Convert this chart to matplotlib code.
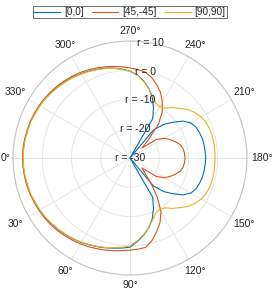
import numpy as np
import matplotlib.pyplot as plt

plt.rcParams['font.family'] = ['Liberation Sans', 'DejaVu Sans']

# angles in degrees, 5 degree steps
theta_deg = np.arange(0, 361, 5)

# pattern values in dB (0..360 deg)
r_00 = [6.6, 6.6, 6.5, 6.3, 6.2, 5.9, 5.7, 5.4, 5.0, 4.6, 4.2, 3.8, 3.3, 2.8, 2.3, 1.8, 1.3, 0.9,
        0.5, -1.3, -3.2, -5.3, -7.8, -11.0, -14.5, -30.0, -17.5, -13.8, -11.0, -8.0, -6.0, -5.1,
        -4.7, -4.4, -4.3, -4.2, -4.1,
        -4.2, -4.3, -4.4, -4.7, -5.1, -6.0, -8.0, -11.0, -13.8, -17.5, -30.0, -14.5, -11.0, -7.8,
        -5.3, -3.2, -1.5, -0.3, 0.5, 1.2, 1.8, 2.3, 2.8, 3.3, 3.8, 4.2, 4.6, 5.0, 5.4, 5.7, 5.9,
        6.2, 6.3, 6.5, 6.6, 6.6]
r_45 = [6.7, 6.7, 6.6, 6.5, 6.3, 6.1, 5.9, 5.7, 5.4, 5.1, 4.7, 4.3, 3.9, 3.5, 3.0, 2.6, 2.2, 1.8,
        1.5, 1.3, 1.0, -0.8, -3.3, -5.7, -8.8, -13.8, -19.0, -23.0, -24.7, -19.0, -16.5, -15.0,
        -13.6, -12.3, -11.6, -11.3, -11.2,
        -11.3, -11.6, -12.3, -13.6, -15.0, -16.5, -19.0, -24.7, -21.0, -14.8, -10.8, -7.9, -5.3,
        -3.3, -1.5, -0.2, 0.4, 0.8, 1.3, 1.8, 2.3, 2.8, 3.3, 3.8, 4.2, 4.6, 5.0, 5.3, 5.6, 5.9,
        6.1, 6.3, 6.4, 6.6, 6.7, 6.7]
r_90 = [6.5, 6.5, 6.4, 6.2, 6.1, 5.8, 5.6, 5.3, 4.9, 4.5, 4.1, 3.7, 3.2, 2.7, 2.2, 1.7, 1.1, 0.6,
        0.1, -1.6, -3.4, -5.4, -7.4, -9.2, -9.7, -9.2, -7.5, -6.0, -4.2, -2.9, -1.9, -1.3,
        -1.0, -0.9, -0.9, -0.9, -0.9,
        -0.9, -0.9, -0.9, -1.0, -1.3, -1.9, -2.9, -4.2, -6.0, -7.5, -9.2, -9.7, -9.2, -7.4,
        -5.4, -3.4, -1.6, -0.4, 0.4, 1.1, 1.7, 2.2, 2.7, 3.2, 3.7, 4.1, 4.5, 4.9, 5.3, 5.6, 5.8,
        6.1, 6.2, 6.4, 6.5, 6.5]

series = [('[0,0]', r_00, '#0072BD'),
          ('[45,-45]', r_45, '#D95319'),
          ('[90,90]', r_90, '#EDB120')]

r_ticks = [-30, -20, -10, 0, 10]
theta_ticks = np.arange(0, 360, 30)

txt = '#262626'
rmin, rmax = -30, 10
px_per_unit = 117 / (rmax - rmin)

fig = plt.figure(figsize=(2.74, 2.92), dpi=100)
ax = fig.add_axes([13/274, 17/292, 234/274, 234/292], projection='polar')
ax.set_theta_zero_location('W')
ax.set_theta_direction(1)

for name, vals, col in series:
    ax.plot(np.deg2rad(theta_deg), vals, color=col, lw=0.8, label=name)

ax.set_rlim(rmin, rmax)
ax.set_rticks(r_ticks[1:])
ax.set_yticklabels([])
ax.set_thetagrids(theta_ticks)
ax.set_xticklabels([])
ax.grid(True, color='#e2e2e2', lw=0.6)
ax.spines['polar'].set_color('#c4c4c4')
ax.spines['polar'].set_linewidth(0.8)

# angle labels, centred a fixed gap outside the outer ring
for a in theta_ticks:
    d = 127.5 + 5 * abs(np.cos(np.deg2rad(a)))
    if a == 0:
        d = 124  # left edge of the figure
    ax.text(np.deg2rad(a), rmin + d / px_per_unit, f'{a}°', ha='center', va='center',
            fontsize=7.5, color=txt, clip_on=False)

for rv in r_ticks:
    ax.text(np.deg2rad(260), rv, f'r = {rv}', ha='center', va='center',
            fontsize=7.5, color=txt)

leg = fig.legend(loc='upper center', bbox_to_anchor=(130/274, 1 - 1/292), ncol=3,
                 fontsize=7.2, frameon=True, fancybox=False, edgecolor='#555555',
                 handlelength=2.6, columnspacing=0.8, handletextpad=0.4,
                 borderpad=0.12, framealpha=1)
leg.get_frame().set_linewidth(0.6)
for t in leg.get_texts():
    t.set_color(txt)

fig.savefig('out.png', dpi=100)
